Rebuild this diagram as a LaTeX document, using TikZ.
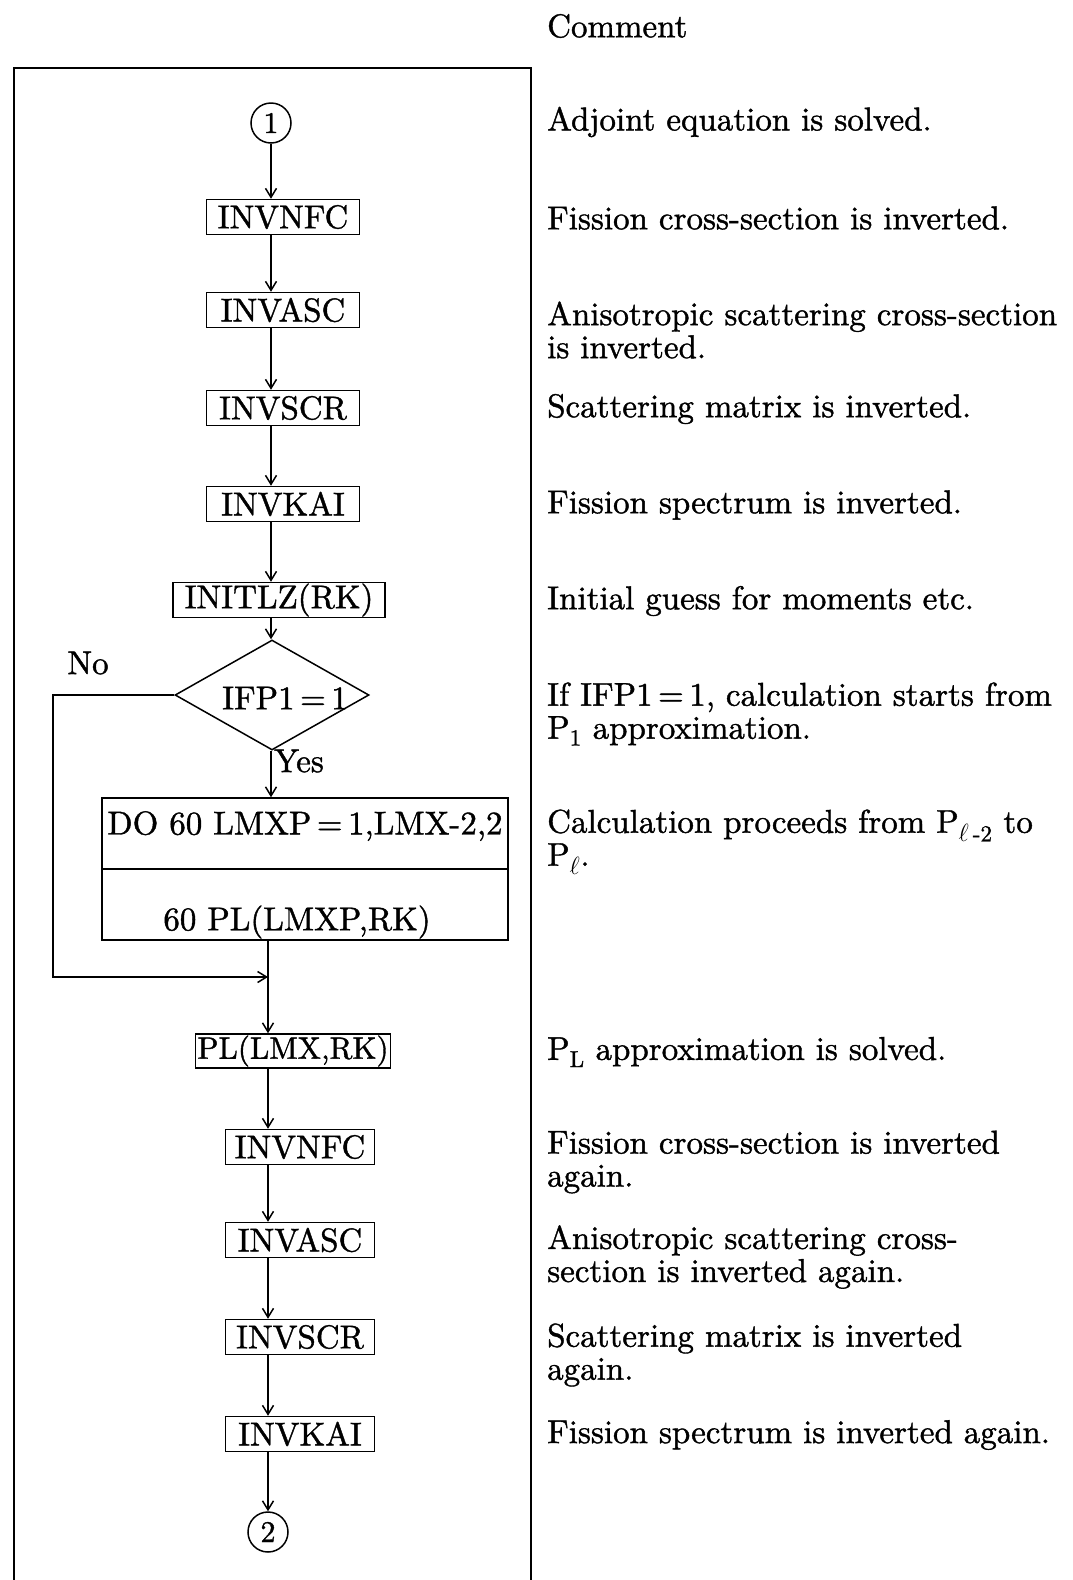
\documentclass[tikz,border=0pt]{standalone}
\usepackage{fontspec}
\setmainfont{lmroman10-regular.otf}[FakeBold=1.2]
\usetikzlibrary{arrows.meta,shapes.geometric}
\begin{document}
\begin{tikzpicture}[x=1pt,y=-1pt,
  every node/.style={font=\fontsize{33}{33}\selectfont, inner sep=0pt},
  box/.style={draw, line width=1.5pt, minimum height=35pt, inner xsep=4pt},
  circ/.style={draw, circle, line width=1.5pt, minimum size=40pt, inner sep=0pt, font=\fontsize{30}{30}\selectfont},
  arr/.style={line width=1.5pt, -{Straight Barb[length=9pt,width=11pt]}},
  ln/.style={line width=1.5pt},
  frame/.style={line width=1.9pt},
  cmt/.style={anchor=west, align=left},
]
\useasboundingbox (0,0) rectangle (1073,1580);
% frame
\coordinate (fbl) at (14,1580);
\coordinate (ftr) at (531,68);
\coordinate (fbr) at (531,1580);
\draw[frame] (fbl) |- (ftr) -- (fbr);
\node[anchor=west] (hdr) at (547,26) {Comment};

% upper chain
\node[circ] (c1) at (271,123) {1};
\node[box, minimum width=153pt] (b1) at (283,217) {INVNFC};
\node[box, minimum width=153pt] (b2) at (283,310) {INVASC};
\node[box, minimum width=153pt] (b3) at (283,408) {INVSCR};
\node[box, minimum width=153pt] (b4) at (283,504) {INVKAI};
\node[box, minimum width=212pt] (b5) at (279,600) {INITLZ(RK)};
\node[diamond, draw, line width=1.5pt, minimum width=194pt, minimum height=110pt] (d) at (272,695) {};
\node (dt) at (285,698) {IFP1\,=\,1};
\node[anchor=west] (yes) at (274,761) {Yes};
\node (no) at (88,663) {No};
\node[draw, line width=1.5pt, minimum width=406pt, minimum height=142pt] (do) at (305,869) {};
\draw[ln] (do.west) -- (do.east);
\node (dot) at (305,826) {DO 60 LMXP\,=\,1,LMX-2,2};
\node (dob) at (297,922) {60 PL(LMXP,RK)};

\draw[arr] (c1) -- (c1 |- b1.north);
\draw[arr] (b1.south -| c1) -- (b2.north -| c1);
\draw[arr] (b2.south -| c1) -- (b3.north -| c1);
\draw[arr] (b3.south -| c1) -- (b4.north -| c1);
\draw[arr] (b4.south -| c1) -- (b5.north -| c1);
\draw[arr] (b5.south -| c1) -- (d.north -| c1);
\draw[arr] (d.south -| c1) -- (do.north -| c1);

% merge
\coordinate (m) at (268,977);
\coordinate (nl) at (53,977);
\draw[ln] (do.south -| m) -- (m);
\draw[arr] (d.west) -| (nl) -- (m);

% lower chain
\node[box, minimum width=190pt, minimum height=34pt, inner xsep=2pt, font=\fontsize{31}{31}\selectfont] (pl) at (293,1051) {PL(LMX,RK)};
\node[box, minimum width=149pt] (b6) at (300,1147) {INVNFC};
\node[box, minimum width=149pt] (b7) at (300,1240) {INVASC};
\node[box, minimum width=149pt] (b8) at (300,1337) {INVSCR};
\node[box, minimum width=149pt] (b9) at (300,1434) {INVKAI};
\node[circ] (c2) at (268,1532) {2};

\draw[arr] (m) -- (m |- pl.north);
\draw[arr] (pl.south -| m) -- (b6.north -| m);
\draw[arr] (b6.south -| m) -- (b7.north -| m);
\draw[arr] (b7.south -| m) -- (b8.north -| m);
\draw[arr] (b8.south -| m) -- (b9.north -| m);
\draw[arr] (b9.south -| m) -- (c2);

% comments
\node[cmt] (k1) at (547,122) {Adjoint equation is solved.};
\node[cmt] (k2) at (547,218) {Fission cross-section is inverted.};
\node[cmt] (k3) at (547,330) {Anisotropic scattering cross-section\\is inverted.};
\node[cmt] (k4) at (547,409) {Scattering matrix is inverted.};
\node[cmt] (k5) at (547,505) {Fission spectrum is inverted.};
\node[cmt] (k6) at (547,601) {Initial guess for moments etc.};
\node[cmt] (k7) at (547,714) {If IFP1\,=\,1, calculation starts from\\P\textsubscript{1} approximation.};
\node[cmt] (k8) at (547,842) {Calculation proceeds from P\textsubscript{$\ell$\,-2} to\\P\textsubscript{$\ell$}.};
\node[cmt] (k9) at (547,1052) {P\textsubscript{L} approximation is solved.};
\node[cmt] (k10) at (547,1162) {Fission cross-section is inverted\\again.};
\node[cmt] (k11) at (547,1257) {Anisotropic scattering cross-\\section is inverted again.};
\node[cmt] (k12) at (547,1355) {Scattering matrix is inverted\\again.};
\node[cmt] (k13) at (547,1435) {Fission spectrum is inverted again.};
\end{tikzpicture}
\end{document}
